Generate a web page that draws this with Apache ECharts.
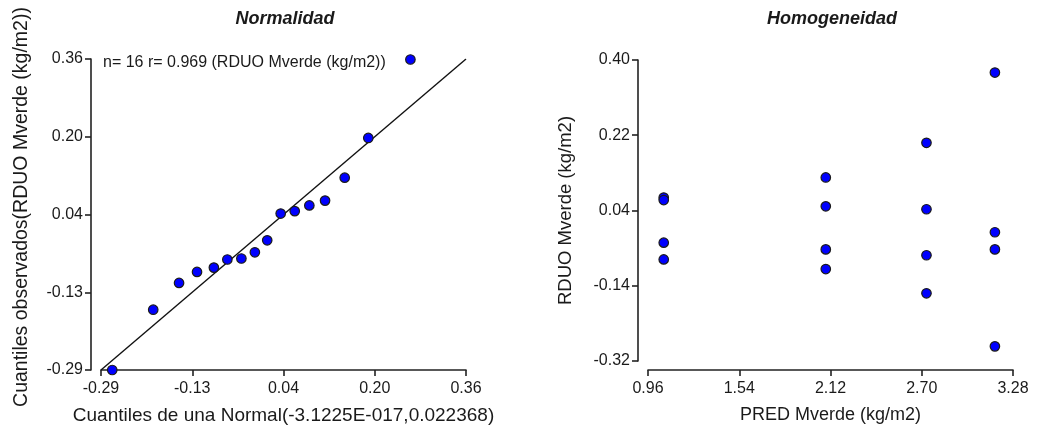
<!DOCTYPE html>
<html>
<head>
<meta charset="utf-8">
<script src="https://cdn.jsdelivr.net/npm/echarts@6/dist/echarts.min.js"></script>
<style>
html,body{margin:0;padding:0;background:#fff;}
#c{width:1038px;height:430px;}
</style>
</head>
<body>
<div id="c"></div>
<script>
// ---- Data ----
var qqTheo = [-0.270,-0.197,-0.151,-0.119,-0.089,-0.065,-0.040,-0.016,0.006,0.030,0.055,0.081,0.109,0.144,0.186,0.261];
var qqObs  = [-0.290,-0.164,-0.108,-0.085,-0.076,-0.059,-0.057,-0.044,-0.019,0.037,0.042,0.054,0.064,0.112,0.195,0.359];
var refLineX = [-0.29, 0.36];
var refLineY = [-0.29, 0.36];

var predX = [1.06,1.06,1.06,1.06, 2.09,2.09,2.09,2.09, 2.73,2.73,2.73,2.73, 3.165,3.165,3.165,3.165];
var resid = [0.071,0.065,-0.037,-0.077, 0.119,0.050,-0.053,-0.100, 0.202,0.043,-0.067,-0.158, 0.370,-0.012,-0.053,-0.285];

var qqTickValues = [-0.29,-0.1275,0.035,0.1975,0.36];
var qqTickLabels = ['-0.29','-0.13','0.04','0.20','0.36'];
var hxTickValues = [0.96,1.54,2.12,2.70,3.28];
var hxTickLabels = ['0.96','1.54','2.12','2.70','3.28'];
var hyTickValues = [-0.32,-0.14,0.04,0.22,0.40];
var hyTickLabels = ['-0.32','-0.14','0.04','0.22','0.40'];

var titles = ['Normalidad','Homogeneidad'];
var annotation = 'n= 16 r= 0.969 (RDUO Mverde (kg/m2))';
var axisNames = {
  qqX: 'Cuantiles de una Normal(-3.1225E-017,0.022368)',
  qqY: 'Cuantiles observados(RDUO Mverde (kg/m2))',
  hX: 'PRED Mverde (kg/m2)',
  hY: 'RDUO Mverde (kg/m2)'
};

// ---- Chart ----
var FONT = '"Liberation Sans", Arial, sans-serif';
var TXT = '#1a1a1a';
function lookup(vals, labs){
  return function(v){
    var best = 0, bd = Infinity;
    for (var i=0;i<vals.length;i++){ var d=Math.abs(vals[i]-v); if(d<bd){bd=d;best=i;} }
    return labs[best];
  };
}
function zip(a,b){ var r=[]; for(var i=0;i<a.length;i++) r.push([a[i],b[i]]); return r; }

function makeAxis(pos, min, max, vals, labs, name, gap, offset, margin, nameSize){
  return {
    type:'value', position:pos, min:min, max:max, offset:offset,
    name:name, nameLocation:'middle', nameGap:gap,
    nameTextStyle:{fontFamily:FONT, fontSize:nameSize, color:TXT},
    axisLine:{show:true, onZero:false, lineStyle:{color:'#222', width:1.6}},
    axisTick:{show:true, length:6, customValues:vals, lineStyle:{color:'#222', width:1.6}},
    axisLabel:{show:true, customValues:vals, formatter:lookup(vals,labs), margin:margin,
      fontFamily:FONT, fontSize:16, color:TXT, showMinLabel:true, showMaxLabel:true},
    splitLine:{show:false}
  };
}

var chart = echarts.init(document.getElementById('c'), null, {renderer:'canvas'});
var pointStyle = {color:'#0000ff', opacity:1, borderColor:'#1a1a1a', borderWidth:1.2};
var yq = makeAxis('left', -0.29, 0.36, qqTickValues, qqTickLabels, '', 60, 10, 8, 19);
chart.setOption({
  animation:false,
  backgroundColor:'#ffffff',
  grid:[
    {left:101, top:59, width:365, height:311},
    {left:648, top:60, width:365, height:301}
  ],
  xAxis:[
    makeAxis('bottom', -0.29, 0.36, qqTickValues, qqTickLabels, axisNames.qqX, 36, 0, 11, 19),
    makeAxis('bottom', 0.96, 3.28, hxTickValues, hxTickLabels, axisNames.hX, 36, 9, 11, 18)
  ].map(function(a,i){ a.gridIndex=i; return a; }),
  yAxis:[
    yq,
    makeAxis('left', -0.32, 0.40, hyTickValues, hyTickLabels, axisNames.hY, 63, 10, 8, 18.5)
  ].map(function(a,i){ a.gridIndex=i; return a; }),
  series:[
    {type:'line', xAxisIndex:0, yAxisIndex:0, data:zip(refLineX, refLineY), symbol:'none',
      lineStyle:{color:'#111', width:1.4}, z:1, silent:true},
    {type:'scatter', xAxisIndex:0, yAxisIndex:0, data:zip(qqTheo, qqObs), symbolSize:9.5,
      itemStyle:pointStyle, z:3},
    {type:'scatter', xAxisIndex:1, yAxisIndex:1, data:zip(predX, resid), symbolSize:9.5,
      itemStyle:pointStyle, z:3}
  ],
  graphic:[
    {type:'text', x:285, y:19, style:{text:titles[0], font:'italic bold 18px '+FONT, fill:TXT, align:'center', verticalAlign:'middle'}},
    {type:'text', x:832, y:19, style:{text:titles[1], font:'italic bold 18px '+FONT, fill:TXT, align:'center', verticalAlign:'middle'}},
    {type:'text', x:103, y:63, style:{text:annotation, font:'16px '+FONT, fill:TXT, align:'left', verticalAlign:'middle'}},
    {type:'text', x:22, y:207, rotation:Math.PI/2, style:{text:axisNames.qqY, font:'19.5px '+FONT, fill:TXT, align:'center', verticalAlign:'middle'}}
  ]
});
</script>
</body>
</html>
